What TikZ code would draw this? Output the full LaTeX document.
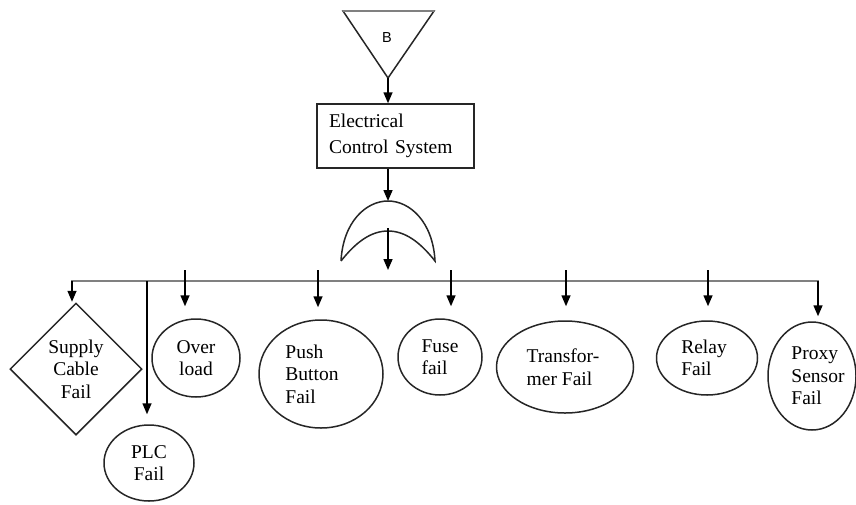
\documentclass[tikz,border=0pt]{standalone}
\usepackage{fontspec}
\setmainfont{Liberation Serif}
\newfontfamily\labelsans{Liberation Sans}
\usetikzlibrary{shapes.geometric,arrows.meta}
\begin{document}
\begin{tikzpicture}[x=1pt,y=-1pt,
  every node/.style={font=\fontsize{19.5}{22.5}\selectfont},
  outline/.style={draw=black!85, line width=1.5pt},
  event/.style={outline, ellipse, inner sep=0pt},
  arr/.style={draw=black, line width=1.5pt, -{Triangle[length=11pt,width=9pt]}},
  bus/.style={draw=black!50, line width=2.6pt}]
\useasboundingbox (0,0) rectangle (856,504);

% transfer-in triangle
\coordinate (tl) at (343,11);
\coordinate (tr) at (434,11);
\coordinate (tapex) at (388,78);
\draw[outline, line join=miter] (tl) -- (tr) -- (tapex) -- cycle;
\draw[draw=black!50, line width=2.4pt] (tl) -- (tr);
\node[font=\labelsans\fontsize{14.5}{14.5}\selectfont] (tB) at (387,38) {B};

% top event
\node[outline, minimum height=64pt, text width=133pt, inner xsep=12pt, align=left,
      font=\fontsize{19.5}{26}\selectfont] (ecs) at (395.5,136) {Electrical\\Control System};
\draw[arr] (tapex) -- (tapex |- ecs.north);

% OR gate
\coordinate (gtop) at (388,201);
\coordinate (gl) at (341,261);
\coordinate (gr) at (435,261);
\coordinate (gin) at (388,231);
\draw[outline] (gl) .. controls (343,222) and (366,201) .. (gtop)
  .. controls (410,201) and (433,222) .. (gr)
  .. controls (420,242) and (405,231) .. (gin)
  .. controls (371,231) and (356,242) .. (gl);
\draw[arr] (gtop |- ecs.south) -- (gtop);
\coordinate (gs) at (388,228);
\coordinate (gout) at (388,270);
\draw[arr] (gs) -- (gout);

% basic events
\node[diamond, outline, minimum width=132pt, minimum height=132pt, inner sep=0pt, align=center] (sc) at (76,369) {Supply\\Cable\\Fail};
\node[event, minimum width=90pt, minimum height=76pt, align=center] (plc) at (149,463) {PLC\\Fail};
\node[event, minimum width=88pt, minimum height=78pt, align=center] (ov) at (196,358) {Over\\load};
\node[event, minimum width=124pt, minimum height=108pt] (pb) at (321,374) {};
\node[align=left] (pbt) at (312,374) {Push\\Button\\Fail};
\node[event, minimum width=84pt, minimum height=76pt, align=left] (fu) at (440,357) {Fuse\\fail};
\node[event, minimum width=137pt, minimum height=92pt] (tf) at (565,367) {};
\node[align=left] (tft) at (563,367) {Transfor-\\mer Fail};
\node[event, minimum width=101pt, minimum height=74pt] (re) at (707,358) {};
\node[align=left] (ret) at (704,358) {Relay\\Fail};
\node[event, minimum width=88pt, minimum height=108pt] (px) at (812,376) {};
\node[align=left] (pxt) at (818,376) {Proxy\\Sensor\\Fail};

% distribution bus
\coordinate (bl) at (72,281);
\coordinate (br) at (818,281);
\coordinate (bld) at (72,291);
\coordinate (brd) at (818,306);
\draw[bus] (bld) -- (bl) -- (br) -- (brd);
\draw[arr, shorten >=0.5pt] (bl) -- (bl |- sc.north);
\draw[arr, shorten >=5pt] (br) -- (br |- px.north);

\coordinate (plcs) at (147,281);
\draw[arr, shorten >=10pt] (plcs) -- (plcs |- plc.north);
\coordinate (ovs) at (185,270);
\draw[arr, shorten >=12pt] (ovs) -- (ovs |- ov.north);
\coordinate (pbs) at (318,270);
\draw[arr, shorten >=12pt] (pbs) -- (pbs |- pb.north);
\coordinate (fus) at (451,270);
\draw[arr, shorten >=12pt] (fus) -- (fus |- fu.north);
\coordinate (tfs) at (566,270);
\draw[arr, shorten >=14pt] (tfs) -- (tfs |- tf.north);
\coordinate (res) at (708,270);
\draw[arr, shorten >=14pt] (res) -- (res |- re.north);
\end{tikzpicture}
\end{document}
